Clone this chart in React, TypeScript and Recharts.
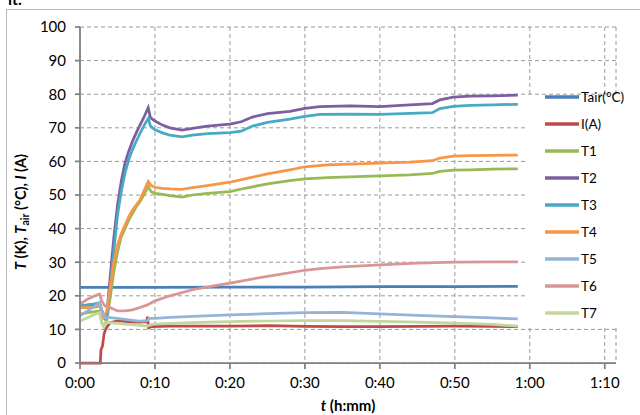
import React from "react";
import { LineChart, Line, XAxis, YAxis, CartesianGrid } from "recharts";

// time in minutes, values
const tairT = [0, 10, 20, 30, 40, 50, 58.4];
const tairV = [22.5, 22.5, 22.6, 22.6, 22.7, 22.7, 22.8];

const iT = [0, 2.7, 2.8, 3.0, 3.2, 3.4, 3.7, 4.0, 5, 6, 7, 8, 8.9, 9.0, 9.15, 9.5, 12, 15, 20, 25, 30, 35, 40, 45, 50, 55, 58.4];
const iV = [0, 0, 4, 5, 8.5, 10, 11, 12, 12.5, 12.4, 12.2, 12.2, 12.3, 13.8, 10.5, 10.8, 11, 11, 11, 11.1, 10.9, 10.8, 10.8, 10.9, 11, 10.9, 10.8];

const t1T = [0, 1, 2, 2.6, 2.9, 3.2, 3.6, 4, 4.5, 5, 5.5, 6, 6.5, 7, 7.5, 8, 8.5, 9.1, 9.5, 10, 11, 12, 13.6, 15, 17, 20, 22, 25, 28, 30, 33, 36, 40, 44, 47, 48, 49.8, 52, 55, 58.4];
const t1V = [14.5, 15, 15.3, 15.5, 12, 10.8, 13, 19, 27, 33, 37.5, 40, 42.5, 44.5, 46.5, 48, 50, 52.5, 51, 50.5, 50.2, 49.8, 49.4, 50, 50.5, 51, 52, 53.3, 54.3, 54.8, 55.2, 55.4, 55.7, 56, 56.4, 57, 57.4, 57.5, 57.7, 57.8];

const t2T = [0, 1, 2, 2.6, 3.0, 3.3, 3.6, 4, 4.5, 5, 5.5, 6, 6.5, 7, 7.5, 8, 8.5, 9.1, 9.4, 10, 11, 12, 13.6, 15, 17, 20, 21.5, 23, 25, 28, 30, 32, 36, 40, 44, 47, 48, 49.8, 52, 55, 58.4];
const t2V = [17, 17.2, 17.5, 17.8, 15, 13.5, 15, 25, 37, 47, 54, 59.5, 63, 66, 68.5, 70.8, 73, 76, 73, 72, 70.8, 70, 69.3, 69.8, 70.5, 71.1, 71.8, 73.2, 74.2, 74.9, 75.8, 76.3, 76.5, 76.3, 76.8, 77.2, 78.3, 79.1, 79.4, 79.5, 79.7];

const t3T = [0, 1, 2, 2.6, 3.0, 3.3, 3.6, 4, 4.5, 5, 5.5, 6, 6.5, 7, 7.5, 8, 8.5, 9.1, 9.4, 10, 11, 12, 13.6, 15, 17, 20, 21.5, 23, 25, 28, 30, 32, 36, 40, 44, 47, 48, 49.8, 52, 55, 58.4];
const t3V = [17, 17.3, 17.6, 17.9, 15, 13.5, 14.5, 22, 33, 44, 51, 56.5, 60.5, 63.5, 66, 68.3, 70.5, 72.8, 70.5, 69.4, 68.5, 67.8, 67.3, 67.8, 68.3, 68.6, 69, 70.5, 71.6, 72.6, 73.4, 74, 74.1, 74, 74.3, 74.5, 75.7, 76.4, 76.7, 76.8, 77];

const t4T = [0, 1, 2, 2.7, 3.1, 3.6, 4, 4.5, 5, 5.5, 6, 6.5, 7, 7.5, 8, 8.5, 9.1, 9.5, 10, 11, 12, 13.6, 15, 17, 20, 22, 25, 28, 30, 33, 36, 40, 44, 47, 48, 49.8, 52, 55, 58.4];
const t4V = [16.5, 16.5, 16.6, 17, 13.5, 15.5, 22, 30, 35, 38.5, 41, 43.5, 45.5, 47, 48.5, 51, 54, 52.8, 52.3, 52, 51.8, 51.7, 52.2, 52.8, 53.8, 54.8, 56.3, 57.5, 58.4, 59, 59.2, 59.5, 59.8, 60.2, 61, 61.6, 61.7, 61.8, 61.9];

const t5T = [0, 1, 2, 2.6, 3.0, 3.3, 4, 5, 6, 7, 8, 9, 9.2, 10, 12, 15, 20, 25, 30, 35, 40, 45, 50, 55, 58.4];
const t5V = [14, 15.5, 17, 18, 15, 13.5, 13.5, 13.3, 13, 12.7, 12.5, 12.6, 13.3, 13.3, 13.6, 13.9, 14.3, 14.7, 15, 15.1, 14.6, 14.2, 13.8, 13.4, 13.1];

const t6T = [0, 1, 2, 2.6, 2.9, 3.3, 4, 5, 6, 7, 8, 9, 10, 12, 15, 18, 20, 25, 30, 32, 35, 40, 45, 50, 55, 58.4];
const t6V = [17.5, 19, 20, 20.5, 18.5, 17, 16.5, 15.5, 15.5, 15.8, 16.5, 17.3, 18.5, 20, 21.8, 23, 23.8, 25.8, 27.6, 28.1, 28.6, 29.2, 29.7, 30, 30.1, 30.1];

const t7T = [0, 1, 2, 2.6, 2.9, 3.2, 3.5, 4, 5, 6, 7, 8, 9, 9.3, 10, 15, 20, 25, 30, 35, 40, 45, 50, 55, 58.4];
const t7V = [12.5, 13.5, 14.5, 15, 12, 10.8, 12, 12, 11.8, 11.6, 11.4, 11.2, 11, 11.3, 11.6, 12, 12.3, 12.5, 12.6, 12.6, 12.4, 12.2, 11.9, 11.5, 11];

const seriesNames = ["Tair(°C)", "I(A)", "T1", "T2", "T3", "T4", "T5", "T6", "T7"];
const seriesColors = ["#4A7EBB", "#BE4B48", "#98B954", "#7D5FA0", "#46AAC5", "#F79646", "#95B3D7", "#D99694", "#C3D69B"];
const seriesTimes = [tairT, iT, t1T, t2T, t3T, t4T, t5T, t6T, t7T];
const seriesValues = [tairV, iV, t1V, t2V, t3V, t4V, t5V, t6V, t7V];

const xTicks = [0, 10, 20, 30, 40, 50, 60, 70];
const yTicks = [0, 10, 20, 30, 40, 50, 60, 70, 80, 90, 100];

const fmtTime = (m: number) => `${Math.floor(m / 60)}:${String(Math.round(m % 60)).padStart(2, "0")}`;

const FONT = "Lato, 'Open Sans', sans-serif";

export default function App() {
  const series = seriesNames.map((name, i) => ({
    name,
    color: seriesColors[i],
    data: seriesTimes[i].map((t, j) => ({ t, v: seriesValues[i][j] })),
  }));
  return (
    <div style={{ position: "absolute", left: 0, top: 0, width: 640, height: 415, overflow: "hidden", background: "#fff", fontFamily: FONT }}>
      <div style={{ position: "absolute", left: 8, top: -11, fontSize: 16, fontWeight: 700, color: "#000" }}>it.</div>
      <div style={{ position: "absolute", left: 6, top: 9, width: 700, height: 500, border: "1px solid #b8b8b8" }} />
      <div style={{ position: "absolute", left: 0, top: 0 }}>
        <LineChart width={640} height={415} margin={{ top: 27, right: 24, left: 20, bottom: 22 }}>
          <CartesianGrid stroke="#9a9a9a" strokeDasharray="4 3" />
          <XAxis
            type="number"
            dataKey="t"
            domain={[0, 71.5]}
            ticks={xTicks}
            tickFormatter={fmtTime}
            allowDataOverflow
            height={30}
            stroke="#808080"
            strokeWidth={1.75}
            tickSize={6}
            tickMargin={8}
            tick={{ fill: "#000", fontSize: 15, fontFamily: FONT }}
          />
          <YAxis
            type="number"
            domain={[0, 100]}
            ticks={yTicks}
            width={60}
            stroke="#808080"
            strokeWidth={1.75}
            tickSize={5}
            tickMargin={9}
            tick={{ fill: "#000", fontSize: 15, fontFamily: FONT }}
          />
          {series.map((s) => (
            <Line
              key={s.name}
              data={s.data}
              dataKey="v"
              name={s.name}
              type="linear"
              stroke={s.color}
              strokeWidth={2.75}
              dot={false}
              isAnimationActive={false}
            />
          ))}
        </LineChart>
      </div>
      <div style={{ position: "absolute", left: 528, top: 95, width: 112, height: 232, background: "#fff" }} />
      <svg width={640} height={415} style={{ position: "absolute", left: 0, top: 0, pointerEvents: "none" }}>
        {series.map((s, i) => (
          <g key={s.name}>
            <line x1={545} x2={579} y1={97 + i * 27} y2={97 + i * 27} stroke={s.color} strokeWidth={3.5} />
            <text x={581} y={97 + i * 27} dy="0.35em" fontSize={13.5} fontFamily={FONT} fill="#000">{s.name}</text>
          </g>
        ))}
        <text transform="translate(26,212) rotate(-90)" textAnchor="middle" fontSize={14.5} fontWeight={700} fontFamily={FONT} fill="#000">
          <tspan fontStyle="italic">T</tspan>
          <tspan> (K), </tspan>
          <tspan fontStyle="italic">T</tspan>
          <tspan fontSize={10.5} dy={3}>air</tspan>
          <tspan dy={-3}> (°C), </tspan>
          <tspan fontStyle="italic">I</tspan>
          <tspan> (A)</tspan>
        </text>
        <text x={348} y={411} textAnchor="middle" fontSize={15} fontWeight={700} fontFamily={FONT} fill="#000">
          <tspan fontStyle="italic">t</tspan>
          <tspan> (h:mm)</tspan>
        </text>
      </svg>
    </div>
  );
}
